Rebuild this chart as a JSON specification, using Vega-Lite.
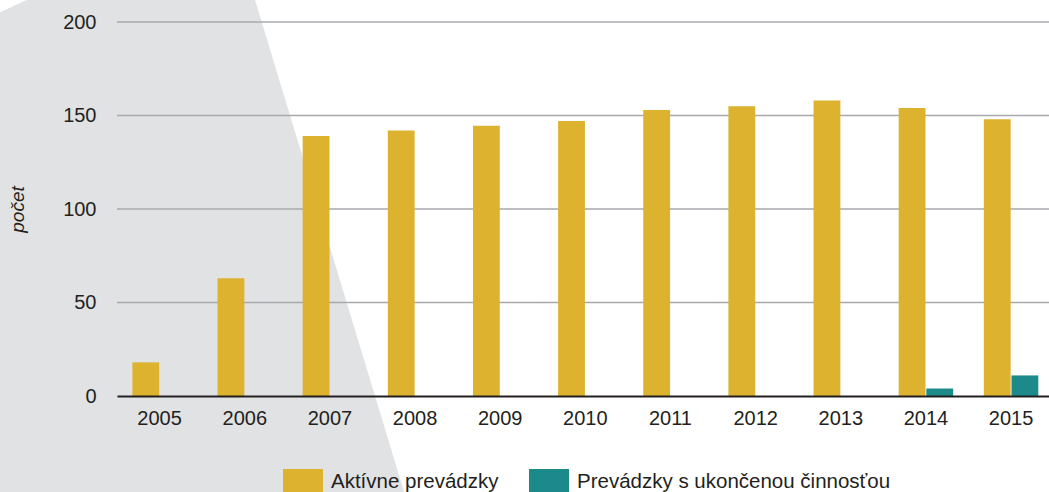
{
  "$schema": "https://vega.github.io/schema/vega-lite/v6.json",
  "width": 932,
  "height": 374,
  "autosize": {"type": "none"},
  "padding": {"left": 117, "top": 22, "right": 0, "bottom": 96},
  "background": "white",
  "config": {
    "view": {"stroke": null},
    "font": "Liberation Sans"
  },
  "datasets": {
    "shape": [
      {"c": 211.8, "x0": 2003.438, "x1": 2006.129},
      {"c": 204.8, "x0": 2003.096, "x1": 2006.176},
      {"c": -55.6, "x0": 2003.096, "x1": 2007.917}
    ],
    "grid": [{"g": 50}, {"g": 100}, {"g": 150}, {"g": 200}],
    "bars": [
      {"year": "2005", "series": "Aktívne prevádzky", "value": 18},
      {"year": "2006", "series": "Aktívne prevádzky", "value": 63},
      {"year": "2007", "series": "Aktívne prevádzky", "value": 139},
      {"year": "2008", "series": "Aktívne prevádzky", "value": 142},
      {"year": "2009", "series": "Aktívne prevádzky", "value": 144.5},
      {"year": "2010", "series": "Aktívne prevádzky", "value": 147},
      {"year": "2011", "series": "Aktívne prevádzky", "value": 153},
      {"year": "2012", "series": "Aktívne prevádzky", "value": 155},
      {"year": "2013", "series": "Aktívne prevádzky", "value": 158},
      {"year": "2014", "series": "Aktívne prevádzky", "value": 154},
      {"year": "2015", "series": "Aktívne prevádzky", "value": 148},
      {"year": "2014", "series": "Prevádzky s ukončenou činnosťou", "value": 4},
      {"year": "2015", "series": "Prevádzky s ukončenou činnosťou", "value": 11}
    ]
  },
  "layer": [
    {
      "data": {"name": "shape"},
      "mark": {"type": "area", "orient": "horizontal", "fill": "#e1e2e4", "opacity": 1, "interpolate": "linear", "clip": false},
      "encoding": {
        "y": {"field": "c", "type": "quantitative", "scale": {"domain": [0, 200], "nice": false}, "axis": null},
        "x": {"field": "x0", "type": "quantitative", "scale": {"domain": [2004.5, 2015.5], "nice": false, "zero": false}, "axis": null},
        "x2": {"field": "x1"}
      }
    },
    {
      "data": {"name": "grid"},
      "mark": {"type": "rule", "color": "#a7a9ac", "strokeWidth": 1.4},
      "encoding": {
        "y": {"field": "g", "type": "quantitative", "scale": {"domain": [0, 200], "nice": false}, "axis": null}
      }
    },
    {
      "data": {"name": "bars"},
      "mark": {"type": "bar"},
      "encoding": {
        "x": {
          "field": "year", "type": "ordinal",
          "scale": {"paddingInner": 0.36, "paddingOuter": 0.153, "align": 0.59},
          "axis": {"title": null, "labelAngle": 0, "ticks": false, "domain": true, "domainColor": "#231f20", "domainWidth": 2, "labelFontSize": 20, "labelColor": "#231f20", "labelPadding": 12, "zindex": 1}
        },
        "xOffset": {
          "field": "series", "type": "nominal",
          "scale": {"domain": ["Aktívne prevádzky", "Prevádzky s ukončenou činnosťou"], "paddingInner": 0.03}
        },
        "y": {
          "field": "value", "type": "quantitative",
          "scale": {"domain": [0, 200], "nice": false},
          "axis": {
            "title": "počet", "values": [0, 50, 100, 150, 200],
            "titleFontStyle": "italic", "titleFontWeight": "normal", "titleFontSize": 19, "titleColor": "#231f20",
            "titleX": -100, "titleY": 187, "titleAngle": -90, "titleAlign": "center", "titleBaseline": "middle",
            "grid": false, "ticks": false, "domain": false,
            "labelFontSize": 20, "labelColor": "#231f20", "labelPadding": 21, "zindex": 1
          }
        },
        "color": {
          "field": "series", "type": "nominal",
          "scale": {"domain": ["Aktívne prevádzky", "Prevádzky s ukončenou činnosťou"], "range": ["#dcb22f", "#1c8a8a"]},
          "legend": {
            "title": null, "orient": "none", "legendX": 166, "legendY": 440, "direction": "horizontal",
            "symbolType": "M-1,-0.65H1V0.65H-1Z", "symbolSize": 1600, "symbolStrokeWidth": 0, "symbolOpacity": 1,
            "labelFontSize": 20.5, "labelColor": "#231f20", "labelOffset": 8, "columnPadding": 30, "padding": 0, "zindex": 1, "labelLimit": 500
          }
        }
      }
    }
  ],
  "resolve": {"scale": {"x": "independent", "y": "independent"}}
}
